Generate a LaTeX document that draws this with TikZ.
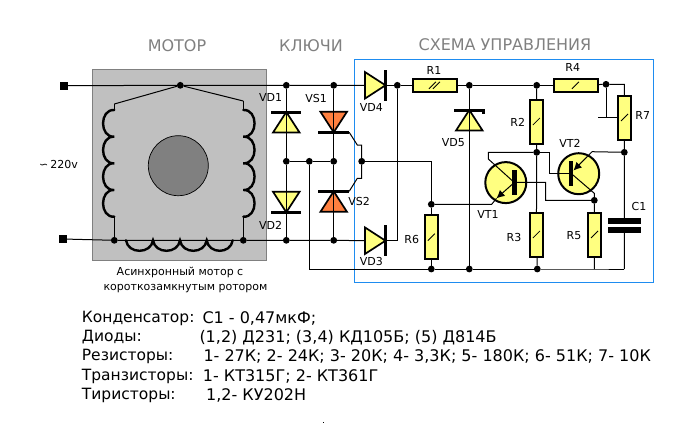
\documentclass[tikz,border=0pt]{standalone}
\usepackage{fontspec}
\setmainfont{DejaVu Sans}
\usetikzlibrary{shapes.geometric, arrows.meta}
\definecolor{partyellow}{HTML}{FFFF80}
\definecolor{partorange}{HTML}{FF8040}
\definecolor{motorgray}{HTML}{C0C0C0}
\definecolor{titlegray}{HTML}{808080}
\definecolor{framelblue}{HTML}{1E8CF0}
\tikzset{
    wire/.style={line width=1pt},
    coil/.style={line width=2.4pt, line cap=round},
    junction/.style={circle, fill=black, inner sep=0pt, outer sep=0pt, minimum size=6.8pt},
    terminal/.style={rectangle, fill=black, inner sep=0pt, minimum size=8pt},
    resbase/.style={rectangle, draw, line width=2pt, fill=partyellow, inner sep=0pt, outer sep=0pt},
    res/.style={resbase, path picture={\draw[line width=0.8pt] ([shift={(-3.5,3.5)}]path picture bounding box.center) -- ([shift={(3.5,-3.5)}]path picture bounding box.center);}},
    resdouble/.style={resbase, path picture={\draw[line width=0.8pt] ([shift={(-5.5,3.5)}]path picture bounding box.center) -- ([shift={(1.5,-3.5)}]path picture bounding box.center) ([shift={(-1.5,3.5)}]path picture bounding box.center) -- ([shift={(5.5,-3.5)}]path picture bounding box.center);}},
    horiz/.style={minimum width=44pt, minimum height=13.4pt},
    vert/.style={minimum width=13.6pt, minimum height=44pt},
    valve/.style={isosceles triangle, isosceles triangle stretches, draw, line width=1.7pt, inner sep=0pt, outer sep=0pt, minimum width=26.5pt, minimum height=20.5pt, anchor=apex},
    bar/.style={rectangle, fill=black, inner sep=0pt, outer sep=0pt},
    transistor/.style={circle, draw, line width=2pt, fill=partyellow, inner sep=0pt, outer sep=0pt, minimum size=41pt},
    title/.style={font=\fontsize{16}{18}\selectfont, text=titlegray},
    tag/.style={font=\fontsize{11}{13}\selectfont, inner sep=0pt},
    listing/.style={font=\fontsize{15.5}{17}\selectfont, anchor=west, inner sep=0pt},
    listval/.style={font=\fontsize{16}{17}\selectfont, anchor=west, inner sep=0pt}
}

\begin{document}
\begin{tikzpicture}[x=1pt, y=-1pt, align=center]
    \useasboundingbox (0,0) rectangle (696,432);
    % Motor body and control frame
    \node[rectangle, draw=titlegray, line width=0.9pt, fill=motorgray, minimum width=174pt, minimum height=191pt, inner sep=0pt](motorbox) at (179.5,165){};
    \node[rectangle, draw=framelblue, line width=0.9pt, minimum width=299pt, minimum height=223pt, inner sep=0pt](ctrlbox) at (503.8,170.8){};
    \node[circle, draw, line width=0.7pt, fill=titlegray, minimum size=60pt, inner sep=0pt](rotor) at (178.3,165.7){};
    % Titles
    \node[title](ttlmotor) at (177,46){МОТОР};
    \node[title](ttlkeys) at (311,46){КЛЮЧИ};
    \node[title](ttlctrl) at (505,45){СХЕМА УПРАВЛЕНИЯ};
    % Motor windings
    \coordinate (L0) at (114.3,110);
    \coordinate (L1) at (114.3,136.7);
    \coordinate (L2) at (114.3,163.3);
    \coordinate (L3) at (114.3,190);
    \coordinate (L4) at (114.3,216.7);
    \coordinate (W0) at (243.3,110);
    \coordinate (W1) at (243.3,136.7);
    \coordinate (W2) at (243.3,163.3);
    \coordinate (W3) at (243.3,190);
    \coordinate (W4) at (243.3,216.7);
    \coordinate (B0) at (126,240.3);
    \coordinate (B1) at (153,240.3);
    \coordinate (B2) at (180,240.3);
    \coordinate (B3) at (206.7,240.3);
    \coordinate (B4) at (232.7,240.3);
    \draw[coil] (L0) .. controls +(-15,-1) and +(-15,1) .. (L1) .. controls +(-15,-1) and +(-15,1) .. (L2) .. controls +(-15,-1) and +(-15,1) .. (L3) .. controls +(-15,-1) and +(-15,1) .. (L4);
    \draw[coil] (W0) .. controls +(15,-1) and +(15,1) .. (W1) .. controls +(15,-1) and +(15,1) .. (W2) .. controls +(15,-1) and +(15,1) .. (W3) .. controls +(15,-1) and +(15,1) .. (W4);
    \draw[coil] (B0) .. controls +(2,14) and +(-2,14) .. (B1) .. controls +(2,14) and +(-2,14) .. (B2) .. controls +(2,14) and +(-2,14) .. (B3) .. controls +(2,14) and +(-2,14) .. (B4);
    % Terminals and rail junctions
    \node[terminal](termtop) at (64,85.7){};
    \node[terminal](termbot) at (63,239){};
    \node[junction](jmotor) at (180.3,85.3){};
    \node[junction](jleft) at (114.3,240.3){};
    \node[junction](jright) at (243.3,240.3){};
    \node[junction](jtop1) at (286.3,85.3){};
    \node[junction](jtop2) at (333.7,85.3){};
    \node[junction](jmid1) at (286.3,161.3){};
    \node[junction](jmid2) at (309.3,161.3){};
    \node[junction](jmid3) at (333.7,161.3){};
    \node[junction](jbot1) at (286.3,240.3){};
    \node[junction](jbot2) at (333.7,240.3){};
    \node[junction](jgate) at (361.7,161.3){};
    \node[junction](jvd) at (397.3,85.3){};
    \node[junction](jr1) at (469.3,85.3){};
    \node[junction](jr2) at (536.7,85.3){};
    \node[junction](jr4) at (606,84.3){};
    \node[junction](jr6) at (431.3,204.3){};
    \node[junction](jvt) at (536.7,152.3){};
    \node[junction](jr5) at (594.3,200.3){};
    \node[junction](jr7) at (624.3,152.3){};
    \node[junction](jrail1) at (431.3,269){};
    \node[junction](jrail2) at (469.3,269){};
    \node[junction](jrail3) at (537.3,269){};
    % Diodes and thyristors of the bridge
    \node[valve, fill=partyellow, shape border rotate=90](VD1) at (286.3,112){};
    \node[bar, minimum width=30pt, minimum height=3pt](VD1bar) at (VD1.apex){};
    \node[valve, fill=partyellow, shape border rotate=-90](VD2) at (286.3,212.3){};
    \node[bar, minimum width=30pt, minimum height=3pt](VD2bar) at (VD2.apex){};
    \node[valve, fill=partorange, shape border rotate=-90](VS1) at (333.7,132.3){};
    \node[bar, minimum width=31pt, minimum height=3pt](VS1bar) at (VS1.apex){};
    \node[valve, fill=partorange, shape border rotate=90](VS2) at (333.7,191.3){};
    \node[bar, minimum width=31pt, minimum height=3pt](VS2bar) at (VS2.apex){};
    \node[valve, fill=partyellow, shape border rotate=0](VD4) at (385.5,85.3){};
    \node[bar, minimum width=3.2pt, minimum height=31pt](VD4bar) at (VD4.apex){};
    \node[valve, fill=partyellow, shape border rotate=0](VD3) at (385.5,240.7){};
    \node[bar, minimum width=3.2pt, minimum height=31pt](VD3bar) at (VD3.apex){};
    \node[valve, fill=partyellow, shape border rotate=90](VD5) at (469.3,110){};
    \node[bar, minimum width=31pt, minimum height=3pt](VD5bar) at (VD5.apex){};
    \node[bar, minimum width=3pt, minimum height=5pt, anchor=north east](VD5flag) at (VD5bar.north east){};
    % Resistors
    \node[resdouble, horiz](R1) at (434.5,85.3){};
    \node[res, horiz](R4) at (575.5,85.3){};
    \node[res, vert](R2) at (536.4,121.5){};
    \node[res, vert](R3) at (536.4,234.5){};
    \node[res, vert](R5) at (594.5,234.5){};
    \node[res, vert](R6) at (431.3,237.2){};
    \node[res, vert](R7) at (624.5,117.5){};
    % Capacitor
    \node[bar, minimum width=32.5pt, minimum height=6pt](C1top) at (624.4,221.3){};
    \node[bar, minimum width=32.5pt, minimum height=6pt](C1bot) at (624.4,229.5){};
    % Transistors
    \node[transistor](VT1) at (505.8,182.6){};
    \node[bar, minimum width=4.6pt, minimum height=25pt](VT1bar) at (514.3,182.5){};
    \node[transistor](VT2) at (578.7,173.7){};
    \node[bar, minimum width=4.6pt, minimum height=25pt](VT2bar) at (571,173.3){};
    % Free ends of the wires
    \coordinate (motorL) at (114.3,104);
    \coordinate (motorR) at (243.3,101);
    \coordinate (rail0) at (309.3,269);
    \coordinate (rail4) at (594.3,269);
    \coordinate (rail5) at (624.3,269);
    \coordinate (gateA) at (357.3,145);
    \coordinate (gateB) at (361.7,145);
    \coordinate (gateC) at (361.7,178.3);
    \coordinate (gateD) at (357.3,178.3);
    \coordinate (gateR) at (431.3,161.3);
    \coordinate (vdbot) at (397.3,240.7);
    \coordinate (r4end) at (624.3,84.3);
    \coordinate (wiperA) at (606,117.7);
    \coordinate (wiperB) at (598.3,117.7);
    \coordinate (wiperC) at (617.5,117.7);
    \coordinate (vt1cA) at (488.3,152.3);
    \coordinate (vt1cB) at (488.3,159);
    \coordinate (vt1eA) at (496.5,198.3);
    \coordinate (vt1eB) at (491.7,204.3);
    \coordinate (vt1bA) at (545.7,182.4);
    \coordinate (vt1bB) at (545.7,200.3);
    \coordinate (vt2bA) at (549.3,152.3);
    \coordinate (vt2bB) at (549.3,173.3);
    \coordinate (vt2eA) at (592,151.7);
    \coordinate (vt2eB) at (573.5,170.5);
    \coordinate (vt2cA) at (594.3,193.3);
    % Motor wiring
    \draw[wire] (termtop) -- (jmotor) -- (jtop1) -- (jtop2) -- (VD4.lower side);
    \draw[wire] (termbot) -- (jleft) -- (jright) -- (jbot1) -- (jbot2) -- (VD3.lower side);
    \draw[wire] (motorL) -- (jmotor) -- (motorR);
    \draw[wire] (motorL) -- (L0);
    \draw[wire] (motorR) -- (W0);
    \draw[wire] (L4) -- (jleft);
    \draw[wire] (W4) -- (jright);
    % Bridge wiring
    \draw[wire] (jtop1) -- (jmid1) -- (jbot1);
    \draw[wire] (jtop2) -- (jmid3) -- (jbot2);
    \draw[wire] (jmid1) -- (jmid2) -- (jmid3);
    \draw[wire] (jmid2) -- (rail0) -- (jrail1) -- (jrail2) -- (jrail3) -- (rail4) -- (rail5);
    \draw[wire] (VS1bar.east) -- (gateA) -- (gateB) -- (jgate) -- (gateC) -- (gateD) -- (VS2bar.east);
    \draw[wire] (jgate) -- (gateR) -- (jr6);
    % Control wiring
    \draw[wire] (VD4bar) -- (jvd) -- (R1);
    \draw[wire] (VD3bar) -- (vdbot) -- (jvd);
    \draw[wire] (R1) -- (jr1) -- (jr2) -- (R4);
    \draw[wire] (R4) -- (jr4) -- (r4end) -- (R7);
    \draw[wire] (jr4) -- (wiperA);
    \draw[wire] (wiperB) -- (wiperC);
    \draw[wire] (jr1) -- (jrail2);
    \draw[wire] (jr2) -- (R2) -- (jvt) -- (R3) -- (jrail3);
    \draw[wire] (jr6) -- (R6) -- (jrail1);
    \draw[wire] (jr5) -- (R5) -- (rail4);
    \draw[wire] (R7) -- (jr7) -- (C1top);
    \draw[wire] (C1bot) -- (rail5);
    \draw[wire] (jvt) -- (vt1cA) -- (vt1cB) -- (VT1bar.center);
    \draw[wire, -{Latex[length=8pt, width=8pt]}] (VT1bar.center) -- (vt1eA);
    \draw[wire] (vt1eA) -- (vt1eB) -- (jr6);
    \draw[wire] (VT1bar.center) -- (vt1bA) -- (vt1bB) -- (jr5);
    \draw[wire] (jvt) -- (vt2bA) -- (vt2bB) -- (VT2bar.center);
    \draw[wire] (jr7) -- (vt2eA);
    \draw[wire, -{Latex[length=8pt, width=8pt]}] (vt2eA) -- (vt2eB);
    \draw[wire] (VT2bar.center) -- (vt2cA) -- (jr5);
    % Part labels
    \node[tag](lblVD1) at (270.7,97.7){VD1};
    \node[tag](lblVS1) at (316,98.3){VS1};
    \node[tag](lblVD2) at (270.7,225){VD2};
    \node[tag](lblVS2) at (359,201.7){VS2};
    \node[tag](lblVD4) at (371.3,107){VD4};
    \node[tag](lblVD3) at (371.3,261.7){VD3};
    \node[tag](lblVD5) at (453.3,142.7){VD5};
    \node[tag](lblR1) at (434,70){R1};
    \node[tag](lblR4) at (572.7,67.7){R4};
    \node[tag](lblR2) at (517.7,122.7){R2};
    \node[tag](lblR3) at (514,237.3){R3};
    \node[tag](lblR5) at (574,235.7){R5};
    \node[tag](lblR6) at (411.7,239){R6};
    \node[tag](lblR7) at (642.7,115){R7};
    \node[tag](lblC1) at (639,206.7){C1};
    \node[tag](lblVT1) at (488,214.5){VT1};
    \node[tag](lblVT2) at (570,143.5){VT2};
    \node[tag](lblmains) at (58.5,164){{\fontsize{11}{11}\selectfont ∽}\,220v};
    \node[tag](lblmotorA) at (180,272){Асинхронный мотор с};
    \node[tag](lblmotorB) at (185.5,288.3){короткозамкнутым ротором};
    % Parts list
    \node[listing](capname) at (81.7,318.3){Конденсатор:};
    \node[listval](capval) at (202.3,318.3){С1 - 0,47мкФ;};
    \node[listing](diodename) at (81.7,337.5){Диоды:};
    \node[listval](diodeval) at (199.3,337.5){(1,2) Д231; (3,4) КД105Б; (5) Д814Б};
    \node[listing](resname) at (81.7,356.7){Резисторы:};
    \node[listval](resval) at (203.3,356.7){1- 27К; 2- 24К; 3- 20К; 4- 3,3К; 5- 180К; 6- 51К; 7- 10К};
    \node[listing](transname) at (81.7,376){Транзисторы:};
    \node[listval](transval) at (202.7,376){1- КТ315Г; 2- КТ361Г};
    \node[listing](thyrname) at (81.7,395){Тиристоры:};
    \node[listval](thyrval) at (206,395){1,2- КУ202Н};
    \node[rectangle, fill=black, inner sep=0pt, minimum size=1pt](speck) at (323,422){};
\end{tikzpicture}
\end{document}
